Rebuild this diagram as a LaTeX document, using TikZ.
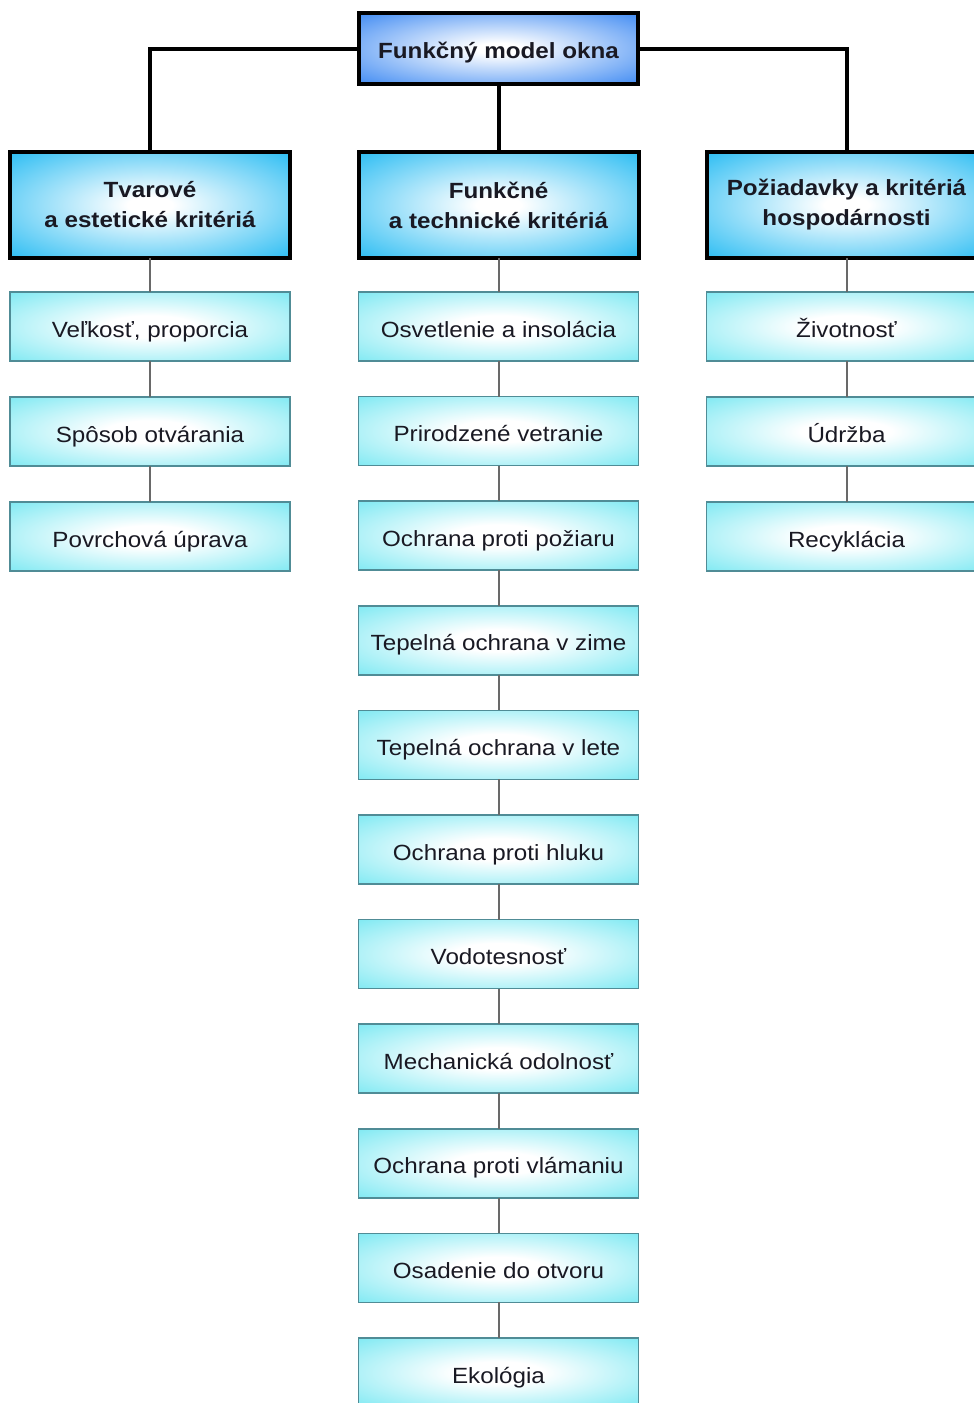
\documentclass[tikz,border=0pt]{standalone}
\usepackage{fontspec}
\setmainfont{Liberation Sans}[FakeStretch=1.1]
\definecolor{topblue}{RGB}{25,115,240}
\definecolor{critblue}{RGB}{0,175,240}
\definecolor{itemcyan}{RGB}{80,225,238}
\definecolor{itemedge}{RGB}{80,140,150}
\definecolor{linkgray}{RGB}{105,105,105}
\definecolor{labelink}{RGB}{25,25,35}

\pgfdeclareradialshading{topglow}{\pgfpoint{0bp}{0bp}}{color(0bp)=(white); color(4bp)=(white); color(42bp)=(topblue); color(75bp)=(topblue)}
\pgfdeclareradialshading{critglow}{\pgfpoint{0bp}{0bp}}{color(0bp)=(white); color(4bp)=(white); color(42bp)=(critblue); color(75bp)=(critblue)}
\pgfdeclareradialshading{itemglow}{\pgfpoint{0bp}{0bp}}{color(0bp)=(white); color(8bp)=(white); color(46bp)=(itemcyan); color(75bp)=(itemcyan)}

\begin{document}
\begin{tikzpicture}[x=1pt,y=-1pt,line cap=butt,line join=miter,
  rootbox/.style={draw=black,line width=4pt,shade,shading=topglow,
    minimum width=279pt,minimum height=71pt,inner sep=0pt,outer sep=0pt,
    text height=20pt,text depth=0pt,
    text=labelink,font=\fontsize{22}{30}\selectfont\bfseries},
  critbox/.style={draw=black,line width=4pt,shade,shading=critglow,
    minimum width=280pt,minimum height=106pt,inner sep=0pt,outer sep=0pt,
    align=center,text=labelink,font=\fontsize{22}{30}\selectfont\bfseries},
  itembox/.style={draw=itemedge,line width=1.5pt,shade,shading=itemglow,
    minimum width=280pt,minimum height=69pt,inner sep=0pt,outer sep=0pt,
    text height=21pt,text depth=0pt,
    text=labelink,font=\fontsize{22}{26}\selectfont},
  mainlink/.style={draw=black,line width=4pt},
  sublink/.style={draw=linkgray,line width=2pt}]
  \path[use as bounding box] (0,0) rectangle (974,1403);

  % root and the three groups of criteria
  \node[rootbox] (root) at (498.5,48.5) {Funkčný model okna};
  \node[critbox] (shape) at (150,205) {Tvarové\\a estetické kritériá};
  \node[critbox] (tech) at (498.5,205) {Funkčné\\a technické kritériá};
  \node[critbox] (econ) at (846.5,205) {Požiadavky a kritériá\\hospodárnosti};

  % left column
  \node[itembox] (size) at (150,326.5) {Veľkosť, proporcia};
  \node[itembox] (opening) at (150,431.5) {Spôsob otvárania};
  \node[itembox] (surface) at (150,536.5) {Povrchová úprava};

  % middle column
  \node[itembox] (light) at (498.5,326.5) {Osvetlenie a insolácia};
  \node[itembox] (vent) at (498.5,431.1) {Prirodzené vetranie};
  \node[itembox] (fire) at (498.5,535.7) {Ochrana proti požiaru};
  \node[itembox] (winter) at (498.5,640.3) {Tepelná ochrana v zime};
  \node[itembox] (summer) at (498.5,744.9) {Tepelná ochrana v lete};
  \node[itembox] (noise) at (498.5,849.5) {Ochrana proti hluku};
  \node[itembox] (water) at (498.5,954.1) {Vodotesnosť};
  \node[itembox] (mech) at (498.5,1058.7) {Mechanická odolnosť};
  \node[itembox] (burglar) at (498.5,1163.3) {Ochrana proti vlámaniu};
  \node[itembox] (fitting) at (498.5,1267.9) {Osadenie do otvoru};
  \node[itembox] (eco) at (498.5,1372.5) {Ekológia};

  % right column
  \node[itembox] (life) at (846.5,326.5) {Životnosť};
  \node[itembox] (care) at (846.5,431.5) {Údržba};
  \node[itembox] (recycle) at (846.5,536.5) {Recyklácia};

  % connectors
  \draw[mainlink] (root.west) -| (shape.north);
  \draw[mainlink] (root.south) -- (tech.north);
  \draw[mainlink] (root.east) -| (econ.north);

  \draw[sublink] (shape.south) -- (size.north);
  \draw[sublink] (size.south) -- (opening.north);
  \draw[sublink] (opening.south) -- (surface.north);

  \draw[sublink] (tech.south) -- (light.north);
  \draw[sublink] (light.south) -- (vent.north);
  \draw[sublink] (vent.south) -- (fire.north);
  \draw[sublink] (fire.south) -- (winter.north);
  \draw[sublink] (winter.south) -- (summer.north);
  \draw[sublink] (summer.south) -- (noise.north);
  \draw[sublink] (noise.south) -- (water.north);
  \draw[sublink] (water.south) -- (mech.north);
  \draw[sublink] (mech.south) -- (burglar.north);
  \draw[sublink] (burglar.south) -- (fitting.north);
  \draw[sublink] (fitting.south) -- (eco.north);

  \draw[sublink] (econ.south) -- (life.north);
  \draw[sublink] (life.south) -- (care.north);
  \draw[sublink] (care.south) -- (recycle.north);
\end{tikzpicture}
\end{document}
